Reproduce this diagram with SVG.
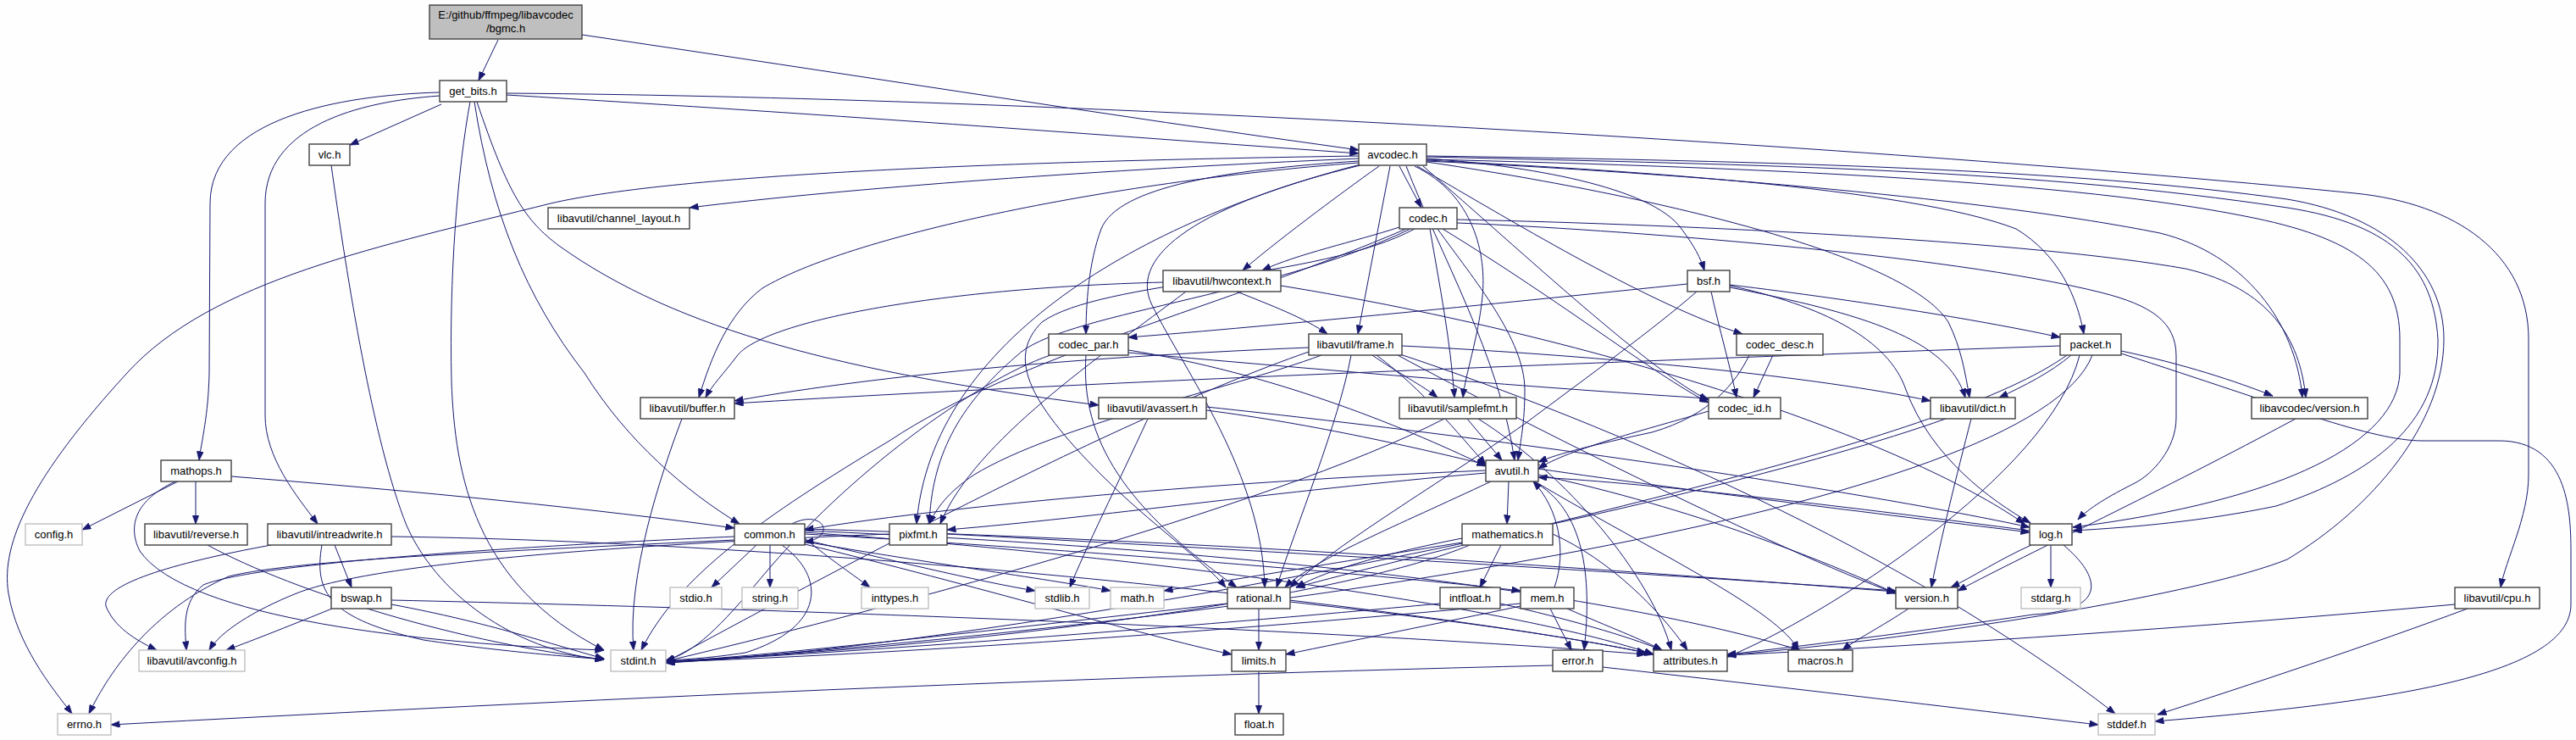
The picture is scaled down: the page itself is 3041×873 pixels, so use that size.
<svg xmlns="http://www.w3.org/2000/svg" width="3041" height="873" viewBox="0 0 3041 873">
<style>
text{font-family:"Liberation Sans",Arial,sans-serif;font-size:13px;text-anchor:middle;fill:#000}
.n rect{fill:#fff;stroke:#404040;stroke-width:1.4}
.g rect{fill:#fff;stroke:#bfbfbf;stroke-width:1.4}
.r rect{fill:#bfbfbf;stroke:#404040;stroke-width:1.4}
#edges path{fill:none;stroke:#191970;stroke-width:1;marker-end:url(#ah)}
</style>
<defs>
<marker id="ah" markerWidth="11" markerHeight="8" refX="10.5" refY="4" orient="auto" markerUnits="userSpaceOnUse"><path d="M0,0 L11,4 L0,8 z" fill="#191970" stroke="#191970" stroke-width="0.5"/></marker>
</defs>
<rect x="0" y="0" width="3041" height="873" fill="#fdfefd"/>
<g id="edges">
<path d="M588,47 L565,95"/>
<path d="M687,41 C1000,87 1300,135 1604,177"/>
<path d="M521,123 L413,171"/>
<path d="M598,112 C1000,136 1350,163 1604,181"/>
<path d="M519,109 C400,112 248,140 248,240 L247,440 C246,490 238,520 235,543"/>
<path d="M519,113 C420,120 313,150 313,240 L313,490 C313,540 350,585 375,618"/>
<path d="M555,120 C540,200 530,330 533,450 C537,560 560,690 713,767"/>
<path d="M560,120 C580,250 620,350 690,440 C740,520 810,580 873,618"/>
<path d="M563,120 C600,230 620,260 660,290 C800,390 1000,440 1297,478"/>
<path d="M598,110 C1300,115 2300,180 2780,228 C2900,240 2985,300 2985,400 L2985,560 C2985,610 2958,660 2952,693"/>
<path d="M391,195 C410,330 440,520 480,620 C520,710 620,770 713,778"/>
<path d="M1604,184 C1200,190 800,205 650,240 C450,290 250,330 150,440 C40,560 0,640 10,700 C20,760 60,810 85,842"/>
<path d="M1604,187 C1300,200 1000,222 814,245"/>
<path d="M1652,196 L1678,245"/>
<path d="M1641,196 L1603,394"/>
<path d="M1628,196 C1580,230 1500,290 1467,319"/>
<path d="M1604,190 C1450,200 1320,220 1300,270 C1285,310 1282,360 1282,394"/>
<path d="M1604,192 C1300,215 1000,280 900,340 C860,370 840,420 825,469"/>
<path d="M1606,194 C1350,260 1100,400 1082,618"/>
<path d="M1670,196 C1740,230 1755,300 1750,350 C1745,400 1730,440 1727,469"/>
<path d="M1660,196 C1700,300 1770,420 1788,543"/>
<path d="M1684,187 C1800,195 1950,220 1985,270 C2000,290 2008,305 2012,319"/>
<path d="M1673,196 C1800,270 1950,360 2057,394"/>
<path d="M1684,189 C1900,200 2250,220 2380,270 C2430,300 2452,350 2460,394"/>
<path d="M1680,196 C1800,300 1950,440 2017,472"/>
<path d="M1684,191 C1950,230 2250,300 2300,380 C2315,410 2320,440 2325,469"/>
<path d="M1684,185 C2100,195 2400,200 2700,245 C2830,265 2873,320 2878,400 C2880,500 2800,560 2687,597 C2600,615 2520,622 2447,626"/>
<path d="M1684,188 C2100,198 2450,215 2650,255 C2780,280 2833,320 2833,400 L2833,440 C2830,520 2700,590 2447,622"/>
<path d="M1684,190 C2000,205 2350,235 2550,275 C2650,300 2710,380 2718,469"/>
<path d="M1684,184 C2100,190 2450,200 2700,235 C2820,255 2885,320 2885,400 C2885,500 2800,600 2700,660 C2600,700 2300,750 2039,773"/>
<path d="M1606,195 C1420,240 1330,300 1360,360 C1400,440 1490,560 1493,693"/>
<path d="M1652,268 C1600,285 1530,300 1490,319"/>
<path d="M1688,270 C1700,340 1712,400 1717,469"/>
<path d="M1697,270 C1740,330 1800,400 1800,460 C1800,500 1795,520 1792,543"/>
<path d="M1703,270 C1850,360 1950,440 2017,475"/>
<path d="M1720,263 C1900,270 2300,300 2480,345 C2540,360 2569,380 2569,420 L2569,493 C2569,530 2540,560 2520,570 C2490,585 2465,600 2453,613"/>
<path d="M1720,259 C2000,265 2400,285 2580,317 C2680,340 2715,400 2722,469"/>
<path d="M1665,270 C1500,350 1250,370 1200,420 C1130,480 1100,540 1097,618"/>
<path d="M1670,270 C1560,330 1300,330 1230,380 C1190,420 1210,470 1300,560 C1360,620 1420,660 1447,693"/>
<path d="M1660,270 C1450,360 1200,420 1050,520 C900,610 800,680 757,767"/>
<path d="M1373,333 C1100,340 900,380 870,420 C855,440 840,455 833,469"/>
<path d="M1460,344 C1500,360 1540,375 1567,394"/>
<path d="M1512,337 C1900,400 2250,520 2390,618"/>
<path d="M1400,344 C1300,420 1150,520 1110,618"/>
<path d="M1992,335 C1800,355 1500,385 1332,398"/>
<path d="M2020,344 C2030,390 2042,430 2050,469"/>
<path d="M2042,336 C2200,355 2350,380 2432,398"/>
<path d="M2042,339 C2200,370 2300,400 2320,469"/>
<path d="M2042,337 C2150,360 2230,400 2250,460 C2280,540 2350,590 2397,617"/>
<path d="M2003,344 C1950,390 1880,440 1800,500 C1700,570 1580,640 1523,693"/>
<path d="M1282,419 C1275,520 1330,600 1460,693"/>
<path d="M1240,419 C1150,450 1000,560 900,680 C850,740 820,770 786,779"/>
<path d="M1332,413 C1500,440 1650,500 1754,550"/>
<path d="M1332,416 C1600,440 1850,460 2017,470"/>
<path d="M1545,410 C1300,420 1050,440 867,473"/>
<path d="M1620,419 C1650,440 1680,455 1697,469"/>
<path d="M1625,419 C1680,460 1720,510 1754,548"/>
<path d="M1595,419 C1580,500 1530,620 1507,693"/>
<path d="M1560,419 C1450,460 1250,500 1150,560 C1120,580 1105,600 1097,618"/>
<path d="M1545,415 C1300,500 900,720 786,781"/>
<path d="M1655,408 C1900,420 2150,445 2279,473"/>
<path d="M1650,419 C1800,500 2100,650 2238,700"/>
<path d="M1650,417 C1900,500 2250,650 2497,842"/>
<path d="M2093,419 L2070,469"/>
<path d="M2065,419 C2050,450 2020,490 1950,510 C1880,525 1840,535 1816,545"/>
<path d="M2504,414 C2580,430 2640,450 2683,467"/>
<path d="M2445,419 C2420,440 2390,455 2360,469"/>
<path d="M2432,408 C1800,430 1200,455 867,476"/>
<path d="M2440,419 C2300,520 1800,620 1530,693"/>
<path d="M2455,419 C2420,560 2150,730 2039,775"/>
<path d="M2470,419 C2400,600 1500,730 786,782"/>
<path d="M2504,417 C2700,480 2800,520 2860,520 L2950,520 C3030,520 3035,600 3035,650 L3035,713 C3035,800 2800,830 2544,851"/>
<path d="M805,494 C780,560 740,680 748,767"/>
<path d="M1355,494 C1320,570 1280,650 1263,693"/>
<path d="M1424,484 C1550,500 1680,530 1754,548"/>
<path d="M1424,480 C1800,520 2200,580 2396,622"/>
<path d="M1732,494 L1773,543"/>
<path d="M1705,494 C1500,600 1000,730 786,780"/>
<path d="M1745,494 C1850,560 1950,680 1973,767"/>
<path d="M2017,485 C1950,505 1850,530 1816,553"/>
<path d="M2327,494 C2310,560 2290,640 2280,693"/>
<path d="M2297,494 C2000,600 1200,760 786,782"/>
<path d="M2710,494 C2550,580 2400,650 2311,697"/>
<path d="M210,568 L97,625"/>
<path d="M231,568 L231,618"/>
<path d="M207,568 C160,590 150,620 165,650 C220,730 500,760 713,767"/>
<path d="M273,562 C500,580 700,600 867,623"/>
<path d="M1781,568 L1779,618"/>
<path d="M1754,555 C1400,570 1100,600 950,625"/>
<path d="M1754,558 C1500,580 1300,610 1118,625"/>
<path d="M1760,568 C1650,620 1550,660 1517,693"/>
<path d="M1810,568 C1870,600 1880,680 1870,767"/>
<path d="M1816,553 C2000,580 2250,610 2396,628"/>
<path d="M1816,560 C2000,600 2150,660 2238,700"/>
<path d="M1812,568 C1950,650 2100,720 2123,767"/>
<path d="M245,643 C350,700 550,760 713,778"/>
<path d="M395,643 L415,693"/>
<path d="M320,643 C200,665 120,690 125,715 C135,740 160,755 185,767"/>
<path d="M380,643 C370,700 390,730 500,755 C600,770 680,775 713,778"/>
<path d="M462,633 C1000,640 1700,720 1943,770"/>
<path d="M893,643 L840,693"/>
<path d="M909,643 L909,693"/>
<path d="M923,643 C975,680 975,740 880,770 C840,776 810,778 786,779"/>
<path d="M935,618 C970,600 990,632 950,640"/>
<path d="M867,637 C600,650 350,660 270,680 C180,720 130,790 105,842"/>
<path d="M867,633 C600,645 300,665 240,690 C215,710 218,740 220,767"/>
<path d="M950,635 C980,660 1010,680 1027,693"/>
<path d="M950,637 C1050,660 1150,685 1222,697"/>
<path d="M950,639 C1100,665 1250,685 1311,697"/>
<path d="M950,642 C1150,690 1350,750 1454,772"/>
<path d="M950,630 C1300,650 1650,680 1795,697"/>
<path d="M950,628 C1400,660 1800,720 1952,772"/>
<path d="M950,626 C1500,650 1900,700 2125,767"/>
<path d="M950,624 C1500,640 2000,680 2238,698"/>
<path d="M1050,630 C800,640 450,660 350,700 C300,720 260,745 247,767"/>
<path d="M1118,630 C1500,650 2000,680 2238,697"/>
<path d="M1772,643 L1747,693"/>
<path d="M1726,640 C1600,660 1450,685 1374,697"/>
<path d="M1726,635 C1650,650 1570,670 1530,693"/>
<path d="M1735,643 C1600,700 1200,760 786,780"/>
<path d="M1833,630 C1900,660 1960,720 1992,767"/>
<path d="M2421,643 L2421,693"/>
<path d="M2398,643 C2360,660 2330,680 2303,693"/>
<path d="M2436,643 C2480,680 2490,720 2400,725 C2300,740 2150,760 2039,772"/>
<path d="M2396,626 C2200,600 1950,570 1816,563"/>
<path d="M392,718 C350,735 300,755 267,767"/>
<path d="M462,713 C580,735 650,760 713,777"/>
<path d="M462,708 C1000,720 1600,745 1943,772"/>
<path d="M1486,718 L1486,767"/>
<path d="M1449,712 C1200,740 950,770 786,781"/>
<path d="M1523,710 C1700,730 1850,750 1952,772"/>
<path d="M1700,712 C1400,740 1000,770 786,781"/>
<path d="M1771,712 C1850,730 1920,750 1962,767"/>
<path d="M1830,718 L1855,767"/>
<path d="M1795,715 C1700,735 1600,755 1518,772"/>
<path d="M1795,712 C1500,740 1100,770 786,781"/>
<path d="M1850,718 C1900,740 1940,755 1962,767"/>
<path d="M1835,693 C1850,650 1840,600 1810,568"/>
<path d="M2253,718 C2220,740 2190,755 2175,767"/>
<path d="M2913,718 C2800,760 2650,810 2547,843"/>
<path d="M2898,713 C2600,740 2300,760 2039,773"/>
<path d="M1486,792 L1486,842"/>
<path d="M1833,785 C1200,800 600,830 131,855"/>
<path d="M1892,787 C2100,810 2350,840 2477,855"/>
</g>
<g id="n_bgmc" class="r"><rect x="507" y="6" width="180" height="40"/><text x="597" y="22">E:/github/ffmpeg/libavcodec</text><text x="597" y="38">/bgmc.h</text></g>
<g id="n_get_bits" class="n"><rect x="519" y="95" width="79" height="25"/><text x="558.5" y="112">get_bits.h</text></g>
<g id="n_vlc" class="n"><rect x="365" y="170" width="48" height="25"/><text x="389" y="187">vlc.h</text></g>
<g id="n_avcodec" class="n"><rect x="1604" y="170" width="80" height="25"/><text x="1644" y="187">avcodec.h</text></g>
<g id="n_channel_layout" class="n"><rect x="647" y="245" width="167" height="25"/><text x="730.5" y="262">libavutil/channel_layout.h</text></g>
<g id="n_codec" class="n"><rect x="1652" y="245" width="68" height="25"/><text x="1686" y="262">codec.h</text></g>
<g id="n_hwcontext" class="n"><rect x="1373" y="319" width="139" height="25"/><text x="1442.5" y="336">libavutil/hwcontext.h</text></g>
<g id="n_bsf" class="n"><rect x="1992" y="319" width="50" height="25"/><text x="2017" y="336">bsf.h</text></g>
<g id="n_codec_par" class="n"><rect x="1238" y="394" width="94" height="25"/><text x="1285" y="411">codec_par.h</text></g>
<g id="n_frame" class="n"><rect x="1545" y="394" width="110" height="25"/><text x="1600" y="411">libavutil/frame.h</text></g>
<g id="n_codec_desc" class="n"><rect x="2050" y="394" width="102" height="25"/><text x="2101" y="411">codec_desc.h</text></g>
<g id="n_packet" class="n"><rect x="2432" y="394" width="72" height="25"/><text x="2468" y="411">packet.h</text></g>
<g id="n_buffer" class="n"><rect x="756" y="469" width="111" height="25"/><text x="811.5" y="486">libavutil/buffer.h</text></g>
<g id="n_avassert" class="n"><rect x="1297" y="469" width="127" height="25"/><text x="1360.5" y="486">libavutil/avassert.h</text></g>
<g id="n_samplefmt" class="n"><rect x="1652" y="469" width="138" height="25"/><text x="1721" y="486">libavutil/samplefmt.h</text></g>
<g id="n_codec_id" class="n"><rect x="2017" y="469" width="85" height="25"/><text x="2059.5" y="486">codec_id.h</text></g>
<g id="n_dict" class="n"><rect x="2279" y="469" width="100" height="25"/><text x="2329" y="486">libavutil/dict.h</text></g>
<g id="n_lavc_version" class="n"><rect x="2658" y="469" width="137" height="25"/><text x="2726.5" y="486">libavcodec/version.h</text></g>
<g id="n_mathops" class="n"><rect x="190" y="543" width="83" height="25"/><text x="231.5" y="560">mathops.h</text></g>
<g id="n_avutil" class="n"><rect x="1754" y="543" width="62" height="25"/><text x="1785" y="560">avutil.h</text></g>
<g id="n_config" class="g"><rect x="30" y="618" width="67" height="25"/><text x="63.5" y="635">config.h</text></g>
<g id="n_reverse" class="n"><rect x="171" y="618" width="121" height="25"/><text x="231.5" y="635">libavutil/reverse.h</text></g>
<g id="n_intreadwrite" class="n"><rect x="316" y="618" width="146" height="25"/><text x="389" y="635">libavutil/intreadwrite.h</text></g>
<g id="n_common" class="n"><rect x="867" y="618" width="83" height="25"/><text x="908.5" y="635">common.h</text></g>
<g id="n_pixfmt" class="n"><rect x="1050" y="618" width="68" height="25"/><text x="1084" y="635">pixfmt.h</text></g>
<g id="n_mathematics" class="n"><rect x="1726" y="618" width="107" height="25"/><text x="1779.5" y="635">mathematics.h</text></g>
<g id="n_log" class="n"><rect x="2396" y="618" width="50" height="25"/><text x="2421" y="635">log.h</text></g>
<g id="n_bswap" class="n"><rect x="391" y="693" width="71" height="25"/><text x="426.5" y="710">bswap.h</text></g>
<g id="n_stdio" class="g"><rect x="791" y="693" width="61" height="25"/><text x="821.5" y="710">stdio.h</text></g>
<g id="n_string" class="g"><rect x="876" y="693" width="66" height="25"/><text x="909" y="710">string.h</text></g>
<g id="n_inttypes" class="g"><rect x="1017" y="693" width="79" height="25"/><text x="1056.5" y="710">inttypes.h</text></g>
<g id="n_stdlib" class="g"><rect x="1222" y="693" width="64" height="25"/><text x="1254" y="710">stdlib.h</text></g>
<g id="n_math" class="g"><rect x="1311" y="693" width="63" height="25"/><text x="1342.5" y="710">math.h</text></g>
<g id="n_rational" class="n"><rect x="1449" y="693" width="74" height="25"/><text x="1486" y="710">rational.h</text></g>
<g id="n_intfloat" class="n"><rect x="1700" y="693" width="71" height="25"/><text x="1735.5" y="710">intfloat.h</text></g>
<g id="n_mem" class="n"><rect x="1795" y="693" width="63" height="25"/><text x="1826.5" y="710">mem.h</text></g>
<g id="n_version" class="n"><rect x="2238" y="693" width="73" height="25"/><text x="2274.5" y="710">version.h</text></g>
<g id="n_stdarg" class="g"><rect x="2386" y="693" width="70" height="25"/><text x="2421" y="710">stdarg.h</text></g>
<g id="n_cpu" class="n"><rect x="2898" y="693" width="100" height="25"/><text x="2948" y="710">libavutil/cpu.h</text></g>
<g id="n_avconfig" class="g"><rect x="164" y="767" width="125" height="25"/><text x="226.5" y="784">libavutil/avconfig.h</text></g>
<g id="n_stdint" class="g"><rect x="721" y="767" width="65" height="25"/><text x="753.5" y="784">stdint.h</text></g>
<g id="n_limits" class="n"><rect x="1454" y="767" width="64" height="25"/><text x="1486" y="784">limits.h</text></g>
<g id="n_error" class="n"><rect x="1833" y="767" width="59" height="25"/><text x="1862.5" y="784">error.h</text></g>
<g id="n_attributes" class="n"><rect x="1952" y="767" width="87" height="25"/><text x="1995.5" y="784">attributes.h</text></g>
<g id="n_macros" class="n"><rect x="2111" y="767" width="76" height="25"/><text x="2149" y="784">macros.h</text></g>
<g id="n_errno" class="g"><rect x="68" y="842" width="63" height="25"/><text x="99.5" y="859">errno.h</text></g>
<g id="n_float" class="n"><rect x="1458" y="842" width="57" height="25"/><text x="1486.5" y="859">float.h</text></g>
<g id="n_stddef" class="g"><rect x="2477" y="842" width="67" height="25"/><text x="2510.5" y="859">stddef.h</text></g>
</svg>
